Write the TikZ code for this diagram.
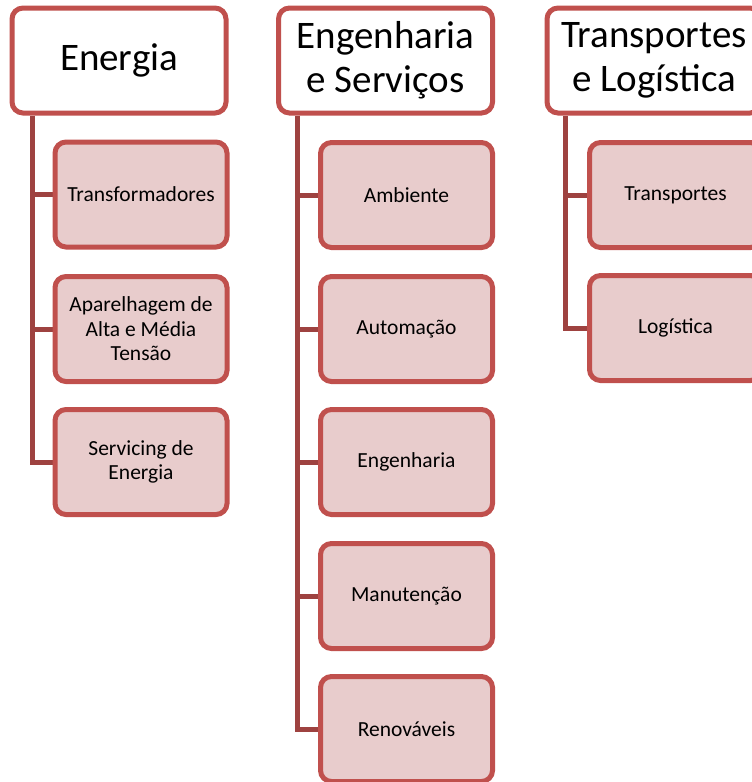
\documentclass[tikz,border=0pt]{standalone}
\usepackage{fontspec}
\setmainfont{Carlito}
\usetikzlibrary{backgrounds}
\definecolor{boxline}{RGB}{192,80,77}
\definecolor{spineline}{RGB}{158,66,64}
\definecolor{boxfill}{RGB}{232,204,204}
\tikzset{
  header/.style={draw=boxline, line width=5pt, fill=white, rounded corners=11pt,
    minimum width=214pt, minimum height=105pt, align=center, inner sep=0pt,
    font=\fontsize{39}{44}\selectfont},
  item/.style={draw=boxline, line width=5pt, fill=boxfill, rounded corners=11pt,
    minimum width=172pt, minimum height=105pt, align=center, inner sep=0pt,
    font=\fontsize{21.5}{24.5}\selectfont},
  spine/.style={draw=spineline, line width=5pt}
}
\begin{document}
\begin{tikzpicture}[x=1pt,y=-1pt]
\useasboundingbox (0,0) rectangle (752,782);

% Energia
\node[header] (h1) at (119,60.5) {Energia};
\node[item] (e1) at (141,194.5) {Transformadores};
\node[item] (e2) at (141,329) {Aparelhagem de\\Alta e Média\\Tensão};
\node[item] (e3) at (141,462) {Servicing de\\Energia};

% Engenharia e Serviços
\node[header] (h2) at (385.5,60.5) {Engenharia\\e Serviços};
\node[item] (s1) at (406.5,195) {Ambiente};
\node[item] (s2) at (406.5,329) {Automação};
\node[item] (s3) at (406.5,462) {Engenharia};
\node[item] (s4) at (406.5,596) {Manutenção};
\node[item] (s5) at (406.5,729) {Renováveis};

% Transportes e Logística
\node[header] (h3) at (654,60.5) {Transportes\\e Logística};
\node[item] (t1) at (675.5,195) {Transportes};
\node[item] (t2) at (675.5,328) {Logística};

\begin{scope}[on background layer]
  % spines with branches
  \coordinate (a1) at ([xshift=23pt]h1.south west);
  \draw[spine] (a1) |- (e3.west);
  \draw[spine] (a1 |- e1.west) -- (e1.west);
  \draw[spine] (a1 |- e2.west) -- (e2.west);

  \coordinate (a2) at ([xshift=21pt]h2.south west);
  \draw[spine] (a2) |- (s5.west);
  \draw[spine] (a2 |- s1.west) -- (s1.west);
  \draw[spine] (a2 |- s2.west) -- (s2.west);
  \draw[spine] (a2 |- s3.west) -- (s3.west);
  \draw[spine] (a2 |- s4.west) -- (s4.west);

  \coordinate (a3) at ([xshift=21pt]h3.south west);
  \draw[spine] (a3) |- (t2.west);
  \draw[spine] (a3 |- t1.west) -- (t1.west);
\end{scope}
\end{tikzpicture}
\end{document}
